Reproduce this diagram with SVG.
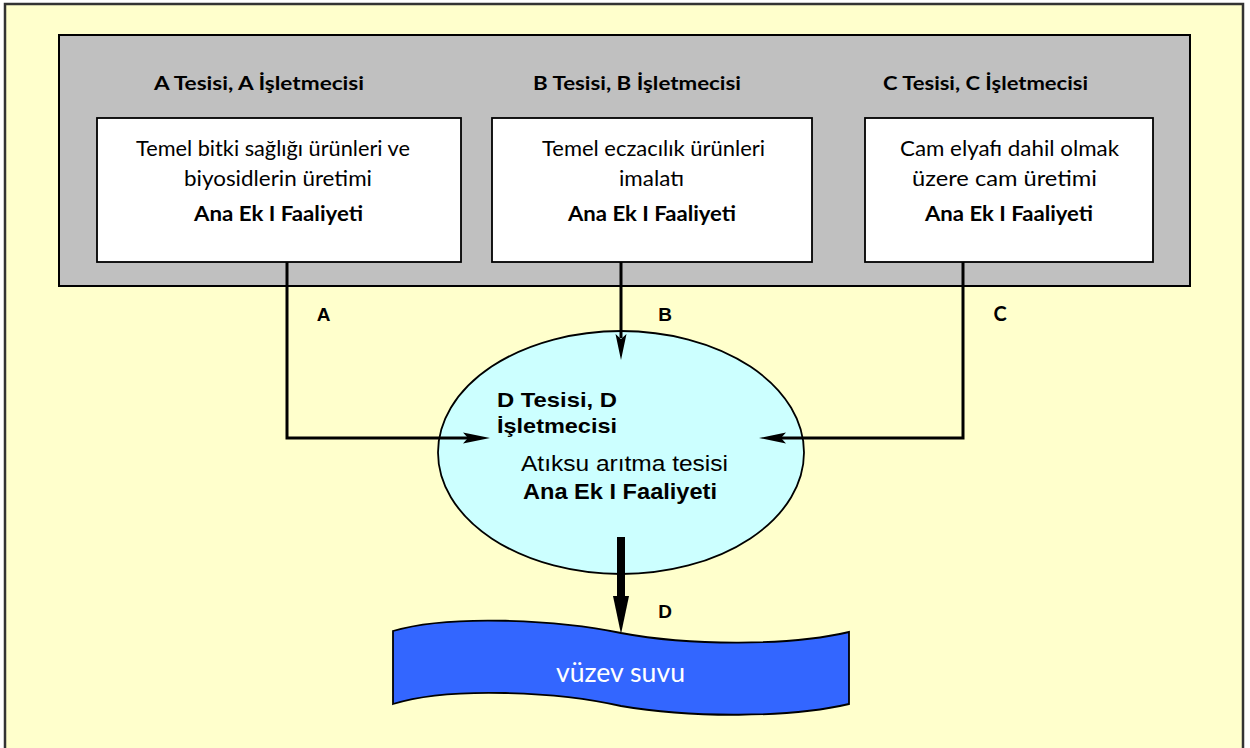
<svg xmlns="http://www.w3.org/2000/svg" width="1250" height="748" viewBox="0 0 1250 748">
<style>
.cal{font-family:Lato,"Noto Sans",sans-serif;fill:#000}
.ar{font-family:"Liberation Sans",Arial,sans-serif;fill:#000}
.b{font-weight:bold}
.box{fill:#fff;stroke:#000;stroke-width:1.8}
.conn{fill:none;stroke:#000;stroke-width:3}
.head{fill:#000;stroke:none}
</style>
<rect x="5" y="4" width="1238" height="760" fill="#FFFFCC" stroke="#333" stroke-width="2.5"/>
<g id="group-abc">
<rect x="59" y="35" width="1131" height="251" fill="#C0C0C0" stroke="#000" stroke-width="2"/>
</g>
<g id="node-a">
<text class="cal b" x="154" y="90" font-size="19" textLength="210" lengthAdjust="spacingAndGlyphs">A Tesisi, A İşletmecisi</text>
<rect class="box" x="97" y="118" width="364" height="144"/>
<text class="cal" x="136" y="156" font-size="21" textLength="274" lengthAdjust="spacingAndGlyphs">Temel bitki sağlığı ürünleri ve</text>
<text class="cal" x="184" y="186" font-size="21" textLength="188" lengthAdjust="spacingAndGlyphs">biyosidlerin üretimi</text>
<text class="cal b" x="194" y="221" font-size="21" textLength="169" lengthAdjust="spacingAndGlyphs">Ana Ek I Faaliyeti</text>
</g>
<g id="node-b">
<text class="cal b" x="533" y="90" font-size="19" textLength="208" lengthAdjust="spacingAndGlyphs">B Tesisi, B İşletmecisi</text>
<rect class="box" x="492" y="118" width="320" height="144"/>
<text class="cal" x="542" y="156" font-size="21" textLength="223" lengthAdjust="spacingAndGlyphs">Temel eczacılık ürünleri</text>
<text class="cal" x="619" y="186" font-size="21" textLength="65" lengthAdjust="spacingAndGlyphs">imalatı</text>
<text class="cal b" x="568" y="221" font-size="21" textLength="168" lengthAdjust="spacingAndGlyphs">Ana Ek I Faaliyeti</text>
</g>
<g id="node-c">
<text class="cal b" x="883" y="90" font-size="19" textLength="205" lengthAdjust="spacingAndGlyphs">C Tesisi, C İşletmecisi</text>
<rect class="box" x="865" y="118" width="288" height="144"/>
<text class="cal" x="900" y="156" font-size="21" textLength="219" lengthAdjust="spacingAndGlyphs">Cam elyafı dahil olmak</text>
<text class="cal" x="912" y="186" font-size="21" textLength="185" lengthAdjust="spacingAndGlyphs">üzere cam üretimi</text>
<text class="cal b" x="925" y="221" font-size="21" textLength="168" lengthAdjust="spacingAndGlyphs">Ana Ek I Faaliyeti</text>
</g>
<g id="node-d">
<ellipse cx="621" cy="452.5" rx="183" ry="121.5" fill="#CCFFFF" stroke="#000" stroke-width="1.8"/>
<text class="ar b" x="497" y="407" font-size="21" textLength="120" lengthAdjust="spacingAndGlyphs">D Tesisi, D</text>
<text class="ar b" x="497" y="433" font-size="21" textLength="120" lengthAdjust="spacingAndGlyphs">İşletmecisi</text>
<text class="ar" x="521" y="471" font-size="22" textLength="207" lengthAdjust="spacingAndGlyphs">Atıksu arıtma tesisi</text>
<text class="ar b" x="523" y="499" font-size="22" textLength="194" lengthAdjust="spacingAndGlyphs">Ana Ek I Faaliyeti</text>
</g>
<g id="node-river">
<path d="M393,631 C450,614 560,620 621,633 C690,646 790,646 849,632 L849,704 C790,718 690,718 621,706 C560,692 450,686 393,704 Z" fill="#3366FF" stroke="#000" stroke-width="1.8"/>
<text class="cal" x="556" y="682" font-size="26" style="fill:#fff" textLength="129" lengthAdjust="spacingAndGlyphs">vüzev suvu</text>
</g>
<g id="connectors">
<polyline class="conn" points="287,262 287,438 468,438"/>
<polygon class="head" points="490,438 463,432.5 468,438 463,443.5"/>
<line class="conn" x1="621" y1="262" x2="621" y2="338"/>
<polygon class="head" points="621,360 615.5,334 621,339 626.5,334"/>
<polyline class="conn" points="963,262 963,438 781,438"/>
<polygon class="head" points="759,438 786,432.5 781,438 786,443.5"/>
<line x1="621" y1="537" x2="621" y2="598" stroke="#000" stroke-width="8"/>
<polygon class="head" points="613,596 629,596 621,634"/>
<text class="ar b" x="323.5" y="321" font-size="19" text-anchor="middle">A</text>
<text class="ar b" x="665" y="321" font-size="19" text-anchor="middle">B</text>
<text class="cal b" x="1000" y="321" font-size="20" text-anchor="middle">C</text>
<text class="ar b" x="665" y="618" font-size="19" text-anchor="middle">D</text>
</g>
</svg>
